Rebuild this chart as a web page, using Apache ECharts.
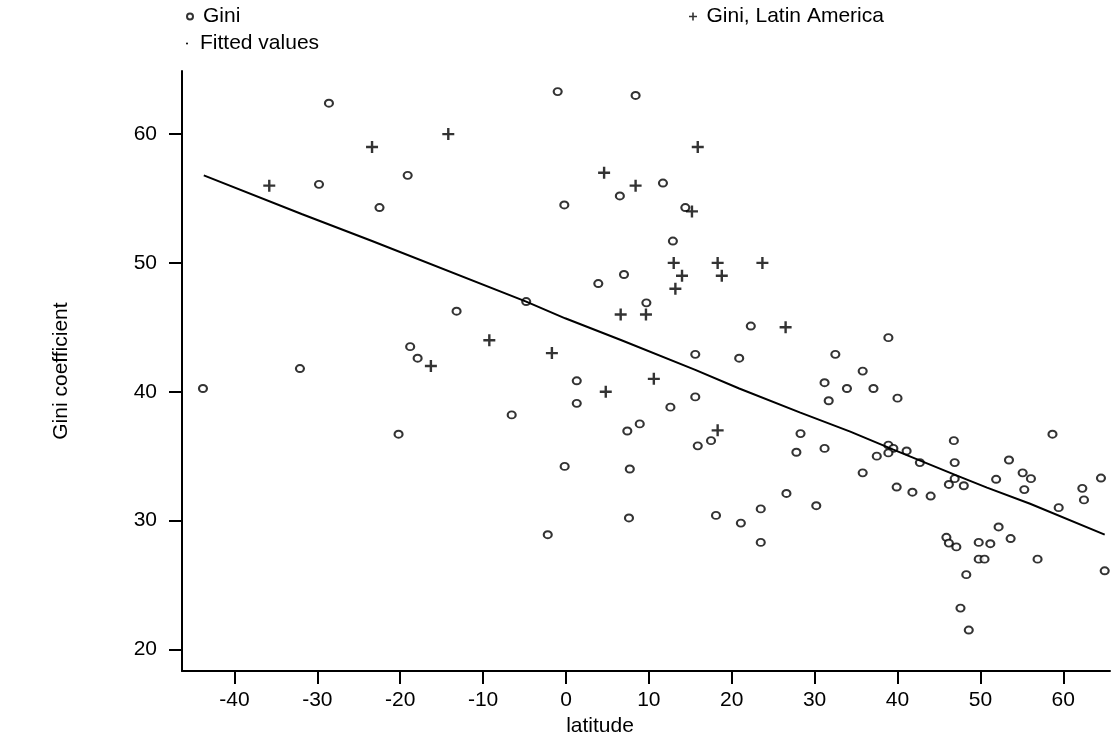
<!DOCTYPE html>
<html>
<head>
<meta charset="utf-8">
<script src="https://cdn.jsdelivr.net/npm/echarts@6/dist/echarts.min.js"></script>
<style>
html,body{margin:0;padding:0;background:#fff;}
#chart{width:1118px;height:742px;}
</style>
</head>
<body>
<div id="chart"></div>
<script>
// Gini (non Latin America): latitude, Gini coefficient
const giniLat = [-28.6,-19.1,-29.8,-22.5,-1.0,6.5,-0.2,7.0,8.4,11.7,14.4,12.9,9.7,22.3,32.5,15.6,20.9,31.2,33.9,31.7,15.6,12.6,8.9,7.4,28.3,15.9,17.5,27.8,31.2,7.7,3.9,-4.8,-13.2,-18.8,-17.9,1.3,1.3,-6.55,-0.16,-20.2,-43.8,-32.1,-2.2,7.6,18.1,21.1,23.5,23.5,26.6,30.2,38.9,35.8,37.1,40.0,58.7,46.8,38.9,39.5,37.5,38.9,41.1,42.7,46.9,53.45,35.8,55.1,46.9,51.9,56.1,64.55,39.9,41.8,44.0,46.2,48.0,55.3,62.3,62.5,59.45,52.2,45.9,46.2,47.1,49.8,51.2,53.65,49.8,50.5,56.9,48.3,65.0,47.6,48.6];
const giniVal = [62.4,56.8,56.1,54.3,63.3,55.2,54.5,49.1,63.0,56.2,54.3,51.7,46.9,45.1,42.9,42.9,42.6,40.7,40.25,39.3,39.6,38.8,37.5,36.95,36.75,35.8,36.2,35.3,35.6,34.0,48.4,47.0,46.25,43.5,42.6,40.85,39.1,38.2,34.2,36.7,40.25,41.8,28.9,30.2,30.4,29.8,30.9,28.3,32.1,31.15,44.2,41.6,40.25,39.5,36.7,36.2,35.85,35.6,35.0,35.25,35.4,34.5,34.5,34.7,33.7,33.7,33.25,33.2,33.25,33.3,32.6,32.2,31.9,32.8,32.7,32.4,32.5,31.6,31.0,29.5,28.7,28.25,27.95,28.3,28.2,28.6,27.0,27.0,27.0,25.8,26.1,23.2,21.5];
// Gini, Latin America
const latamLat = [-35.8,-23.4,-14.2,-9.25,-16.3,-1.7,4.6,8.4,15.9,15.2,13.0,18.3,23.7,14.0,18.8,13.2,6.6,9.65,26.5,10.6,4.8,18.3];
const latamVal = [56.0,59.0,60.0,44.0,42.0,43.0,57.0,56.0,59.0,54.0,50.0,50.0,50.0,49.0,49.0,48.0,46.0,46.0,45.0,41.0,40.0,37.0];
// Fitted values
const fitLat = [-43.7,-31.9,-23.4,-4.8,-0.1,6.7,15.6,20.9,28.2,34.3,39.5,47.1,50.8,56.0,65.0];
const fitVal = [56.8,53.8,51.7,47.0,45.7,44.0,41.7,40.25,38.4,36.9,35.5,33.5,32.55,31.3,28.9];
// Axis ticks
const xTicks = [-40,-30,-20,-10,0,10,20,30,40,50,60];
const yTicks = [20,30,40,50,60];

const FONT = 'Liberation Sans';
const FS = 21;
const plusPath = 'path://M4,0H6V10H4Z M0,4H10V6H0Z';

const zip = (a, b) => a.map((v, i) => [v, b[i]]);

const chart = echarts.init(document.getElementById('chart'), null, {renderer: 'canvas'});
chart.setOption({
  animation: false,
  backgroundColor: '#fff',
  textStyle: {fontFamily: FONT, color: '#000'},
  grid: {left: 182, right: 8, top: 71, bottom: 65, containLabel: false},
  legend: [
    {data: [{name: 'Gini', icon: 'circle'}], left: 181, top: 1, itemWidth: 16, itemHeight: 6,
     textStyle: {fontFamily: FONT, fontSize: FS, color: '#000'}},
    {data: [{name: 'Fitted values', icon: 'circle', itemStyle: {color: '#000', borderWidth: 0}}], left: 181, top: 28, itemWidth: 16, itemHeight: 2,
     textStyle: {fontFamily: FONT, fontSize: FS, color: '#000'}},
    {data: [{name: 'Gini, Latin America', icon: plusPath}], left: 684, top: 1, itemWidth: 17, itemHeight: 8,
     textStyle: {fontFamily: FONT, fontSize: FS, color: '#000'}}
  ],
  xAxis: {
    type: 'value', min: -46.33, max: 65.64,
    splitLine: {show: false},
    axisLine: {onZero: false, lineStyle: {color: '#000', width: 2}},
    axisTick: {customValues: xTicks, length: 13, lineStyle: {color: '#000', width: 2}},
    axisLabel: {customValues: xTicks, margin: 19, fontFamily: FONT, fontSize: FS, color: '#000'},
    name: 'latitude', nameLocation: 'middle', nameGap: 43,
    nameTextStyle: {fontFamily: FONT, fontSize: FS, color: '#000', padding: [0, 92, 0, 0]}
  },
  yAxis: {
    type: 'value', min: 18.31, max: 64.9,
    splitLine: {show: false},
    axisLine: {onZero: false, lineStyle: {color: '#000', width: 2}},
    axisTick: {customValues: yTicks, length: 13, lineStyle: {color: '#000', width: 2}},
    axisLabel: {customValues: yTicks, margin: 25, fontFamily: FONT, fontSize: FS, color: '#000'},
    name: 'Gini coefficient', nameLocation: 'middle', nameGap: 110,
    nameTextStyle: {fontFamily: FONT, fontSize: FS, color: '#000'}
  },
  series: [
    {name: 'Gini', type: 'scatter', data: zip(giniLat, giniVal), symbol: 'circle', symbolSize: [8, 7],
     itemStyle: {color: '#fff', borderColor: '#000', borderWidth: 2}},
    {name: 'Gini, Latin America', type: 'scatter', data: zip(latamLat, latamVal), symbol: plusPath, symbolSize: 12,
     itemStyle: {color: '#000'}},
    {name: 'Fitted values', type: 'line', data: zip(fitLat, fitVal), symbol: 'none', smooth: false,
     lineStyle: {color: '#000', width: 2}, itemStyle: {color: '#000'}}
  ]
});
</script>
</body>
</html>
